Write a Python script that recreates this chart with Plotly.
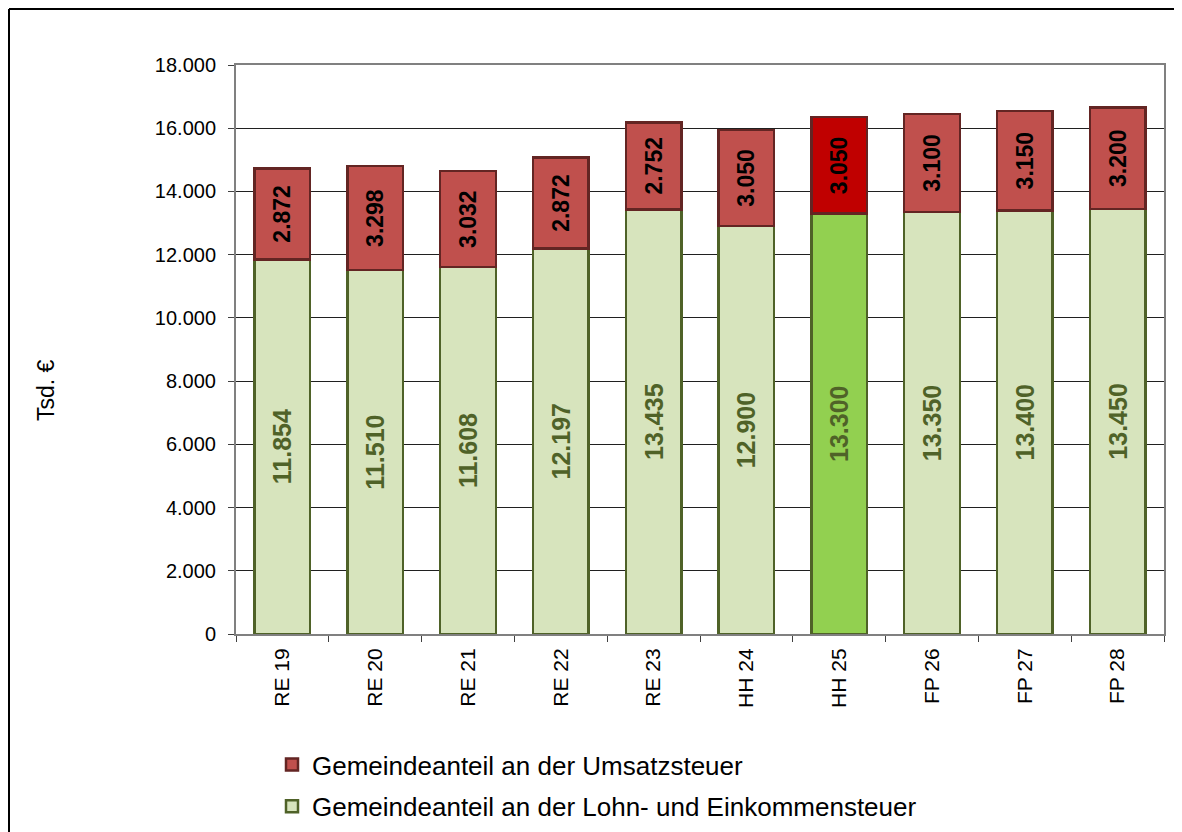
import plotly.graph_objects as go

categories = ["RE 19", "RE 20", "RE 21", "RE 22", "RE 23", "HH 24", "HH 25", "FP 26", "FP 27", "FP 28"]
lohn_eink = [11854, 11510, 11608, 12197, 13435, 12900, 13300, 13350, 13400, 13450]
umsatz = [2872, 3298, 3032, 2872, 2752, 3050, 3050, 3100, 3150, 3200]
y_ticks = [0, 2000, 4000, 6000, 8000, 10000, 12000, 14000, 16000, 18000]
highlight = "HH 25"

def de(v):
    return f"{v:,}".replace(",", ".")

green_fill = ["#92d050" if c == highlight else "#d7e4bd" for c in categories]
red_fill = ["#c00000" if c == highlight else "#c0504d" for c in categories]

FONT = "Liberation Sans, Arial, sans-serif"

# page offset (body margin of the html page)
OFF = 8
W, H = 1182 - OFF, 832 - OFF
# plot area in page pixels
L, R, T, B = 236, 1164, 65, 634

def px(x):
    return (x - L) / (R - L)

def py(y):
    return (B - y) / (B - T)

def cy(y):
    return (H - (y - OFF)) / H

fig = go.Figure()
fig.add_trace(go.Bar(
    x=categories, y=lohn_eink, name="Gemeindeanteil an der Lohn- und Einkommensteuer",
    marker=dict(color=green_fill, line=dict(color="#4f6228", width=2.5)),
    text=[de(v) for v in lohn_eink], textposition="inside", textangle=-90,
    insidetextanchor="middle", constraintext="none",
    textfont=dict(family=FONT, size=25, color="#4f6228", weight="bold"),
    width=0.6, legendrank=2, legendgroup="b", hoverinfo="skip",
))
fig.add_trace(go.Bar(
    x=categories, y=umsatz, name="Gemeindeanteil an der Umsatzsteuer",
    marker=dict(color=red_fill, line=dict(color="#632523", width=2.5)),
    text=[de(v) for v in umsatz], textposition="inside", textangle=-90,
    insidetextanchor="middle", constraintext="none",
    textfont=dict(family=FONT, size=23, color="black", weight="bold"),
    width=0.6, legendrank=1, legendgroup="a", hoverinfo="skip",
))

fig.update_layout(
    width=W, height=H, barmode="stack",
    margin=dict(l=L - OFF, r=W - (R - OFF), t=T - OFF, b=H - (B - OFF)),
    paper_bgcolor="white", plot_bgcolor="white",
    font=dict(family=FONT, color="black"),
    showlegend=True,
    legend=dict(x=px(272), y=cy(741), xanchor="left", yanchor="top",
                yref="container",
                traceorder="grouped", tracegroupgap=5,
                font=dict(family=FONT, size=26, color="black"),
                bgcolor="rgba(0,0,0,0)"),
    xaxis=dict(showline=True, linecolor="#808080", linewidth=2, mirror=True,
               ticks="outside", tickson="boundaries", ticklen=6, tickcolor="#404040",
               tickangle=-90, tickfont=dict(family=FONT, size=21, color="black"),
               ticklabelstandoff=4, showgrid=False),
    yaxis=dict(range=[0, 18000], tickvals=y_ticks, ticktext=[de(v) for v in y_ticks],
               showline=True, linecolor="#808080", linewidth=2, mirror=True,
               ticks="outside", ticklen=6, tickcolor="#404040",
               tickfont=dict(family=FONT, size=20, color="black"),
               ticklabelstandoff=8,
               showgrid=True, gridcolor="#202020", gridwidth=1, zeroline=False),
    annotations=[dict(text="Tsd. €", x=px(46), y=py(390), xref="paper", yref="paper",
                      xanchor="center", yanchor="middle",
                      textangle=-90, showarrow=False,
                      font=dict(family=FONT, size=23, color="black"))],
    shapes=[
        dict(type="line", xref="paper", yref="paper", x0=px(9), x1=px(1200),
             y0=py(9), y1=py(9), line=dict(color="black", width=2)),
        dict(type="line", xref="paper", yref="paper", x0=px(9), x1=px(9),
             y0=py(9), y1=py(850), line=dict(color="black", width=2)),
    ],
)

fig.write_html("out.html")
